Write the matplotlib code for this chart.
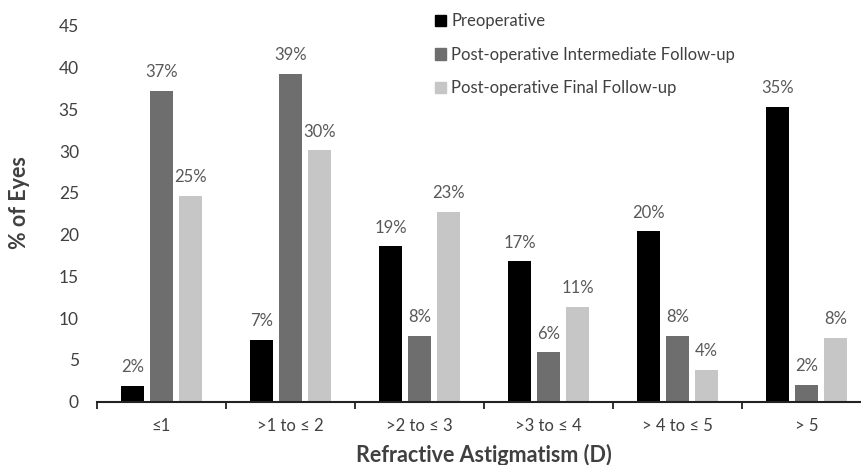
import numpy as np
import matplotlib.pyplot as plt
from matplotlib.patches import Patch

# data
categories = ["\u22641", ">1 to \u2264 2", ">2 to \u2264 3", ">3 to \u2264 4", "> 4 to \u2264 5", "> 5"]
series_names = ["Preoperative", "Post-operative Intermediate Follow-up", "Post-operative Final Follow-up"]
preop = [1.9, 7.4, 18.6, 16.8, 20.4, 35.3]
intermediate = [37.2, 39.3, 7.9, 5.9, 7.9, 2.0]
final = [24.6, 30.1, 22.7, 11.4, 3.8, 7.6]
colors = ["#000000", "#6e6e6e", "#c6c6c6"]

plt.rcParams['font.family'] = ['Lato', 'DejaVu Sans']
txt = "#404040"

fig = plt.figure(figsize=(8.62, 4.65), dpi=100)
ax = fig.add_axes([97 / 862, 1 - 401.7 / 465, 774 / 862, (401.7 - 26) / 465])

x = np.arange(len(categories))
w = 0.178
step = 0.225
for k, vals in enumerate([preop, intermediate, final]):
    pos = x + (k - 1) * step
    ax.bar(pos, vals, width=w, color=colors[k], zorder=2)
    for p, v in zip(pos, vals):
        ax.text(p, v + 1.3, "%d%%" % round(v), ha="center", va="bottom",
                fontsize=12, color="#595959")

ax.set_xlim(-0.5, len(categories) - 0.5)
ax.set_ylim(0, 45)
ax.set_yticks(np.arange(0, 46, 5))
ax.set_xticks(x)
ax.set_xticklabels(categories)
ax.set_xticks(np.arange(-0.5, len(categories), 1), minor=True)
ax.tick_params(axis="x", which="major", length=0, pad=12, labelsize=12, labelcolor=txt)
ax.tick_params(axis="x", which="minor", length=5, width=1.3, color="#222222")
ax.tick_params(axis="y", length=0, pad=13, labelsize=12.5, labelcolor=txt)

for s in ["left", "top", "right"]:
    ax.spines[s].set_visible(False)
ax.spines["bottom"].set_linewidth(1.5)
ax.spines["bottom"].set_color("#222222")

ax.set_ylabel("% of Eyes", fontsize=15.5, fontweight="bold", color=txt)
ax.yaxis.set_label_coords(-0.086, 0.53)
ax.set_xlabel("Refractive Astigmatism (D)", fontsize=15.5, fontweight="bold", color=txt, labelpad=7)

handles = [Patch(color=c) for c in colors]
fig.legend(handles, series_names, loc="upper left", bbox_to_anchor=(427 / 862, 1 - 5 / 465),
           frameon=False, fontsize=12, handlelength=0.65, handleheight=0.65,
           handletextpad=0.3, labelspacing=1.05, borderpad=0, labelcolor=txt)

fig.savefig("out.png", dpi=100)
